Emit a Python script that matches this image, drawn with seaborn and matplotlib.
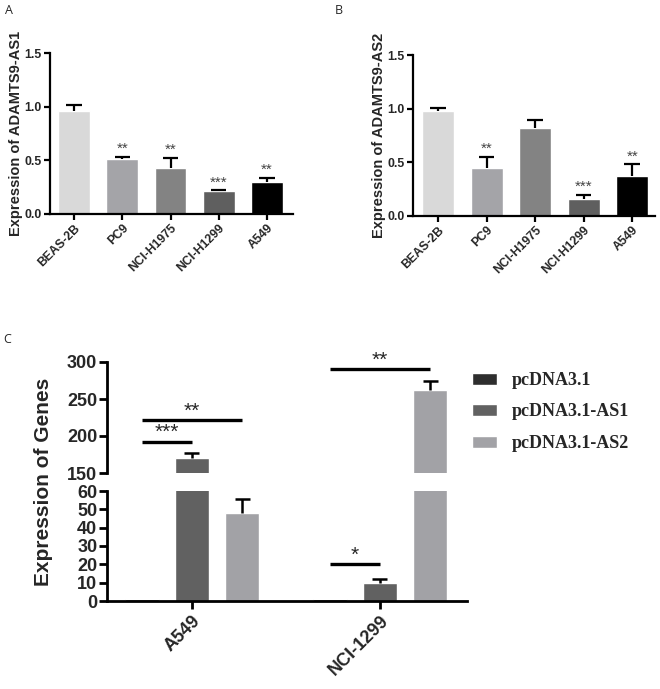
import numpy as np
import pandas as pd
import matplotlib
matplotlib.use('Agg')
import matplotlib.pyplot as plt
import seaborn as sns

# ------------------------------------------------------------------
# data
# ------------------------------------------------------------------
cells = ['BEAS-2B', 'PC9', 'NCI-H1975', 'NCI-H1299', 'A549']
cell_colors = ['#d9d9d9', '#a4a4a8', '#838383', '#5f5f5f', '#000000']

as1_mean = [0.96, 0.51, 0.43, 0.21, 0.30]
as1_err = [0.06, 0.02, 0.09, 0.01, 0.04]
as1_sig = ['', '**', '**', '***', '**']

as2_mean = [0.98, 0.45, 0.82, 0.16, 0.37]
as2_err = [0.03, 0.10, 0.07, 0.04, 0.11]
as2_sig = ['', '**', '', '***', '**']

groups = ['A549', 'NCI-1299']
vectors = ['pcDNA3.1', 'pcDNA3.1-AS1', 'pcDNA3.1-AS2']
vector_colors = ['#2e2e2e', '#616161', '#a2a2a6']
pc_mean = [1.0, 1.0]
pc_err = [0.0, 0.0]
oe_as1_mean = [170.0, 9.8]
oe_as1_err = [7.0, 2.4]
oe_as2_mean = [48.0, 262.0]
oe_as2_err = [7.5, 13.0]

# comparisons: group, vector a, vector b, label, line level
comparisons = [
    ('A549', 'pcDNA3.1', 'pcDNA3.1-AS1', '***', 192),
    ('A549', 'pcDNA3.1', 'pcDNA3.1-AS2', '**', 221),
    ('NCI-1299', 'pcDNA3.1', 'pcDNA3.1-AS1', '*', 20),
    ('NCI-1299', 'pcDNA3.1', 'pcDNA3.1-AS2', '**', 290),
]

# ------------------------------------------------------------------
sns.set_theme(style='ticks')
plt.rcParams['font.family'] = ['Liberation Sans', 'DejaVu Sans']
plt.rcParams['axes.linewidth'] = 1.5

W, H = 660, 689
fig = plt.figure(figsize=(6.6, 6.89), dpi=100)


def px_axes(left, top, right, bottom):
    return fig.add_axes([left / W, 1 - bottom / H, (right - left) / W, (bottom - top) / H])


def style_axis(ax, size, lw):
    sns.despine(ax=ax)
    for sp in ['left', 'bottom']:
        ax.spines[sp].set_linewidth(lw)
        ax.spines[sp].set_color('black')
    ax.tick_params(width=lw, length=4, labelsize=size, color='black', pad=2)
    for t in ax.get_xticklabels() + ax.get_yticklabels():
        t.set_fontweight('bold')


def cell_panel(ax, means, errs, sigs, ylabel, xlim):
    df = pd.DataFrame({'cell': cells, 'expr': means})
    sns.barplot(data=df, x='cell', y='expr', hue='cell', palette=cell_colors,
                width=0.66, errorbar=None, legend=False, saturation=1, ax=ax)
    bars = sorted([p for p in ax.patches if p.get_width() > 0], key=lambda p: p.get_x())
    for bar, e, s in zip(bars, errs, sigs):
        x = bar.get_x() + bar.get_width() / 2
        h = bar.get_height()
        ax.vlines(x, h, h + e, color='black', lw=1.6)
        ax.hlines(h + e, x - 0.16, x + 0.16, color='black', lw=1.6)
        if s:
            ax.text(x, h + e + 0.01, s, ha='center', va='bottom', fontsize=11, color='#444444')
    ax.set_ylim(0, 1.5)
    ax.set_xlim(*xlim)
    ax.set_yticks([0, 0.5, 1.0, 1.5])
    ax.set_yticklabels(['0.0', '0.5', '1.0', '1.5'], color='#262626')
    ax.set_xticks(range(len(cells)))
    ax.set_xticklabels(cells, rotation=45, ha='right', rotation_mode='anchor', color='#262626')
    ax.set_xlabel('')
    ax.set_ylabel(ylabel, fontsize=10.5, fontweight='bold', color='#262626')
    ax.yaxis.set_label_coords(-0.11, 0.5)
    style_axis(ax, 8.8, 1.6)


axA = px_axes(50, 53, 293, 214)
cell_panel(axA, as1_mean, as1_err, as1_sig, 'Expression of ADAMTS9-AS1', (-0.5, 4.54))
axB = px_axes(413, 55, 655, 216)
cell_panel(axB, as2_mean, as2_err, as2_sig, 'Expression of ADAMTS9-AS2', (-0.52, 4.47))

fig.text(5 / W, 1 - 4 / H, 'A', fontsize=9, va='top', ha='left', family='Open Sans')
fig.text(335 / W, 1 - 4 / H, 'B', fontsize=9, va='top', ha='left', family='Open Sans')
fig.text(3 / W, 1 - 333 / H, 'C', fontsize=9, va='top', ha='left', family='Open Sans')

# ------------------------------------------------------------------
# panel C : broken axis
# ------------------------------------------------------------------
dfc = pd.DataFrame({
    'group': groups * 3,
    'vector': [v for v in vectors for _ in groups],
    'expr': pc_mean + oe_as1_mean + oe_as2_mean,
})
errc = pc_err + oe_as1_err + oe_as2_err

ax_top = px_axes(107, 362, 467, 473)
ax_bot = px_axes(107, 491, 467, 601)

centers = {}
for ax in [ax_top, ax_bot]:
    sns.barplot(data=dfc, x='group', y='expr', hue='vector', hue_order=vectors,
                palette=vector_colors, width=0.8, gap=0.33, errorbar=None,
                saturation=1, legend=(ax is ax_bot), ax=ax)
    bars = [p for p in ax.patches if p.get_width() > 0][:len(dfc)]
    for bar, (_, row), e in zip(bars, dfc.iterrows(), errc):
        x = bar.get_x() + bar.get_width() / 2
        h = bar.get_height()
        centers[(row['group'], row['vector'])] = x
        if e > 0:
            ax.vlines(x, h, h + e, color='black', lw=1.8)
            ax.hlines(h + e, x - 0.04, x + 0.04, color='black', lw=1.8)
    ax.set_xlim(-0.452, 1.463)
    ax.set_xlabel('')
    ax.set_ylabel('')

ax_top.set_ylim(150, 300)
ax_top.set_yticks([150, 200, 250, 300])
ax_bot.set_ylim(0, 60)
ax_bot.set_yticks(range(0, 61, 10))
ax_bot.set_xticks(range(len(groups)))
ax_bot.set_xticklabels(groups, rotation=45, ha='right', rotation_mode='anchor')

style_axis(ax_top, 13, 2)
style_axis(ax_bot, 13, 2)
ax_top.spines['bottom'].set_visible(False)
ax_top.tick_params(axis='x', bottom=False, labelbottom=False)
for ax in [ax_top, ax_bot]:
    ax.tick_params(axis='y', length=6, pad=1)
ax_bot.tick_params(axis='x', length=6)

for grp, va, vb, label, level in comparisons:
    ax = ax_top if level >= 150 else ax_bot
    x0, x1 = centers[(grp, va)], centers[(grp, vb)]
    ax.hlines(level, x0, x1, color='black', lw=2.4, clip_on=False)
    ax.annotate(label, ((x0 + x1) / 2, level), xytext=(0, 0), textcoords='offset points',
                ha='center', va='bottom', fontsize=15, annotation_clip=False)

fig.text(53 / W, 1 - 482 / H, 'Expression of Genes', rotation=90, ha='right', va='center',
         fontsize=15, fontweight='bold')

leg = ax_bot.get_legend()
handles = leg.legend_handles
labels = [t.get_text() for t in leg.get_texts()]
leg.remove()
fig.legend(handles, labels, loc='upper left', bbox_to_anchor=(472 / W, 1 - 372 / H),
           frameon=False, borderpad=0, borderaxespad=0, handlelength=1.4, handleheight=0.65,
           handletextpad=0.8, labelspacing=0.8,
           prop={'family': 'Liberation Serif', 'weight': 'bold', 'size': 13})

fig.savefig('out.png', dpi=100)
